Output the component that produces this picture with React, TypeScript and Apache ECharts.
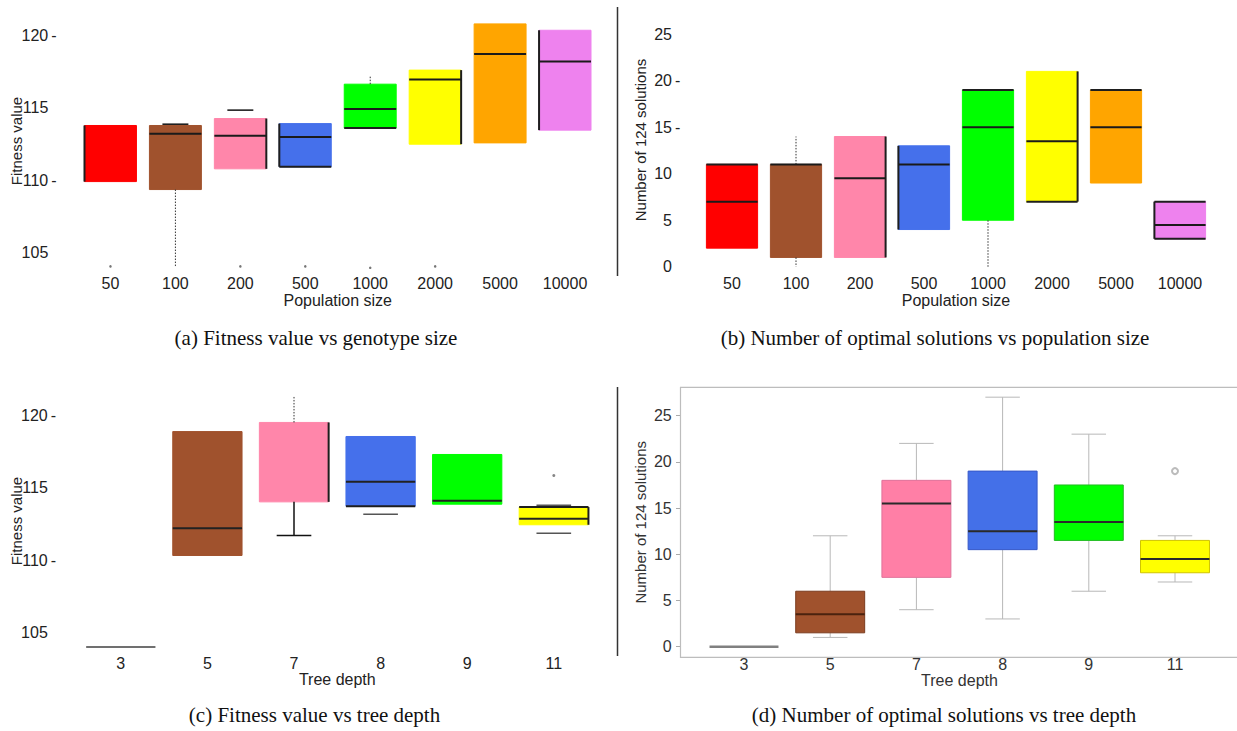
import React, { useEffect, useRef } from 'react';
import * as echarts from 'echarts';

const SANS = '"Liberation Sans", Arial, Helvetica, sans-serif';
const SERIF = '"Liberation Serif", "Times New Roman", serif';

// ---------- categories ----------
const popSizes = ['50', '100', '200', '500', '1000', '2000', '5000', '10000'];
const treeDepths = ['3', '5', '7', '8', '9', '11'];

// ---------- (a) Fitness value vs population size ----------
const fitPopQ1 = [109.9, 109.35, 110.78, 110.92, 113.59, 112.48, 112.57, 113.45];
const fitPopMedian: (number | null)[] = [null, 113.2, 113.06, 112.97, 114.9, 116.94, 118.71, 118.18];
const fitPopQ3 = [113.77, 113.77, 114.25, 113.9, 116.62, 117.59, 120.78, 120.34];
const fitPopLow: (number | null)[] = [null, 104.0, null, null, null, null, null, null];
const fitPopHigh: (number | null)[] = [null, 113.86, 114.83, null, 117.24, null, null, null];
const fitPopOutliers = [[0, 104.05], [2, 104.05], [3, 104.05], [4, 103.95], [5, 104.05]];

// ---------- (b) Number of 124 solutions vs population size ----------
const solPopQ1 = [2, 1, 1, 4, 5, 7, 9, 3];
const solPopMedian: (number | null)[] = [7, 11, 9.5, 11, 15, 13.5, 15, 4.5];
const solPopQ3 = [11, 11, 14, 13, 19, 21, 19, 7];
const solPopLow: (number | null)[] = [null, 0, null, null, 0, null, null, null];
const solPopHigh: (number | null)[] = [null, 14, null, null, null, null, null, null];

// ---------- (c) Fitness value vs tree depth ----------
const fitDepthQ1 = [104.0, 110.32, 114.02, 113.72, 113.86, 112.44];
const fitDepthMedian: (number | null)[] = [104.0, 112.2, null, 115.4, 114.09, 112.85];
const fitDepthQ3 = [104.0, 118.87, 119.5, 118.53, 117.29, 113.66];
const fitDepthLow: (number | null)[] = [null, null, 111.7, 113.17, null, 111.86];
const fitDepthHigh: (number | null)[] = [null, null, 121.26, null, null, 113.79];
const fitDepthOutliers = [[5, 115.84]];

// ---------- (d) Number of 124 solutions vs tree depth ----------
const solDepthLow = [0, 1, 4, 3, 6, 7];
const solDepthQ1 = [0, 1.5, 7.5, 10.5, 11.5, 8];
const solDepthMedian = [0, 3.5, 15.5, 12.5, 13.5, 9.5];
const solDepthQ3 = [0, 6, 18, 19, 17.5, 11.5];
const solDepthHigh = [0, 12, 22, 27, 23, 12];
const solDepthOutliers = [[5, 19]];

// ---------- texts ----------
const captions = [
  '(a) Fitness value vs genotype size',
  '(b) Number of optimal solutions vs population size',
  '(c) Fitness value vs tree depth',
  '(d) Number of optimal solutions vs tree depth',
];
const fitTicks = [105, 110, 115, 120];
const solTicks = [0, 5, 10, 15, 20, 25];

// ---------- styles ----------
const popColors = ['#FF0000', '#A0522D', '#FF86AA', '#4570EB', '#00FF00', '#FFFF00', '#FFA500', '#EE82EE'];
const depthColors = ['#808080', '#A0522D', '#FF86AA', '#4570EB', '#00FF00', '#FFFF00'];
const depthColorsD = ['#808080', '#A0522D', '#FF7FA6', '#4470E8', '#00FF00', '#FFFF00'];
const depthBordersD = ['#808080', '#7a3b1e', '#e0729a', '#3658c8', '#22bb22', '#d0c400'];

const fitPopLowKind = ['', 'dotted', '', '', '', '', '', ''];
const fitPopHighKind = ['', 'cap', 'cap', '', 'dotted', '', '', ''];
const fitPopEdges = ['L', '', 'R', 'LB', 'B', 'R', '', 'L'];

const solPopLowKind = ['', 'dotted', '', '', 'dotted', '', '', ''];
const solPopHighKind = ['', 'dotted', '', '', '', '', '', ''];
const solPopEdges = ['T', '', 'R', 'L', 'T', 'RB', 'T', 'TBL'];

const fitDepthLowKind = ['', '', 'solid', 'capGray', '', 'capGray'];
const fitDepthHighKind = ['', '', 'dotted', '', '', 'capGray'];
const fitDepthEdges = ['', '', 'R', 'B', '', 'TR'];
const fitDepthMedianColors = ['#707070', '#222', '#222', '#222', '#222', '#222'];

type BoxCfg = {
  median: (number | null)[];
  low: (number | null)[];
  high: (number | null)[];
  lowKind: string[];
  highKind: string[];
  edges: string[];
  colors: string[];
  medianColors?: string[];
};

const seg = (x1: number, y1: number, x2: number, y2: number, stroke: string, lineWidth: number, lineDash?: number[]) => ({
  type: 'line',
  shape: { x1, y1, x2, y2 },
  style: lineDash ? { stroke, lineWidth, lineDash } : { stroke, lineWidth },
});

function plainBox(c: BoxCfg) {
  return (params: any, api: any) => {
    const i = params.dataIndex;
    const x = api.value(0);
    const p1 = api.coord([x, api.value(1)]);
    const p3 = api.coord([x, api.value(2)]);
    const cx = p1[0];
    const bw = api.size([1, 0])[0] * 0.8;
    const L = cx - bw / 2;
    const R = cx + bw / 2;
    const yT = p3[1];
    const yB = p1[1];
    const ch: any[] = [];
    if (yB - yT > 0.5) {
      ch.push({ type: 'rect', shape: { x: L, y: yT, width: bw, height: yB - yT }, style: { fill: c.colors[i], stroke: c.colors[i], lineWidth: 1 } });
    }
    const whisker = (v: number | null, kind: string, yFrom: number) => {
      if (v == null || !kind) return;
      const yv = api.coord([x, v])[1];
      if (kind === 'dotted') ch.push(seg(cx, yFrom, cx, yv, '#333', 1, [1.5, 1.5]));
      if (kind === 'solid') {
        ch.push(seg(cx, yFrom, cx, yv, '#111', 1.5));
        ch.push(seg(cx - bw / 4, yv, cx + bw / 4, yv, '#111', 1.5));
      }
      if (kind === 'cap') ch.push(seg(cx - bw / 4, yv, cx + bw / 4, yv, '#111', 1.5));
      if (kind === 'capGray') ch.push(seg(cx - bw / 4, yv, cx + bw / 4, yv, '#555', 1.5));
    };
    whisker(c.low[i], c.lowKind[i], yB);
    whisker(c.high[i], c.highKind[i], yT);
    const e = c.edges[i];
    const ec = '#1e1e1e';
    if (e.includes('L')) ch.push(seg(L, yT, L, yB, ec, 2));
    if (e.includes('R')) ch.push(seg(R, yT, R, yB, ec, 2));
    if (e.includes('T')) ch.push(seg(L, yT, R, yT, ec, 2));
    if (e.includes('B')) ch.push(seg(L, yB, R, yB, ec, 2));
    const m = c.median[i];
    if (m != null) {
      const ym = api.coord([x, m])[1];
      ch.push(seg(L, ym, R, ym, c.medianColors ? c.medianColors[i] : '#1a1a1a', 2));
    }
    return { type: 'group', children: ch };
  };
}

function fullBox(params: any, api: any) {
  const i = params.dataIndex;
  const x = api.value(0);
  const yLow = api.coord([x, api.value(1)])[1];
  const yQ1 = api.coord([x, api.value(2)])[1];
  const yMed = api.coord([x, api.value(3)])[1];
  const yQ3 = api.coord([x, api.value(4)])[1];
  const yHigh = api.coord([x, api.value(5)])[1];
  const cx = api.coord([x, api.value(3)])[0];
  const bw = api.size([1, 0])[0] * 0.8;
  const L = cx - bw / 2;
  const R = cx + bw / 2;
  const wc = '#b8b8b8';
  const ch: any[] = [];
  if (yLow - yQ1 > 0.3 || yQ3 - yHigh > 0.3) {
    ch.push(seg(cx, yQ3, cx, yHigh, wc, 1));
    ch.push(seg(cx, yQ1, cx, yLow, wc, 1));
    ch.push(seg(cx - bw / 4, yHigh, cx + bw / 4, yHigh, wc, 1));
    ch.push(seg(cx - bw / 4, yLow, cx + bw / 4, yLow, wc, 1));
  }
  if (yQ1 - yQ3 > 0.5) {
    ch.push({ type: 'rect', shape: { x: L, y: yQ3, width: bw, height: yQ1 - yQ3 }, style: { fill: depthColorsD[i], stroke: depthBordersD[i], lineWidth: 1 } });
    ch.push(seg(L, yMed, R, yMed, i === 1 ? '#4a220e' : '#2a2a2a', 2));
  } else {
    ch.push(seg(L, yMed, R, yMed, '#808080', 2.5));
  }
  return { type: 'group', children: ch };
}

const dashLabel = (dashed: number[]) => (v: number) => {
  if (Math.abs(v % 5) > 1e-6) return '';
  return dashed.includes(v) ? `{n|${v}}{d|-}` : `{n|${v}}{g| }`;
};
const richLab = {
  n: { fontSize: 16, color: '#222', fontFamily: SANS },
  d: { fontSize: 16, color: '#222', fontFamily: SANS, padding: [0, 0, 0, 3] },
  g: { fontSize: 16, width: 8.3 },
};

const catAxis = (gridIndex: number, data: string[], name: string, margin: number, nameGap: number, color = '#222') => ({
  gridIndex,
  type: 'category',
  data,
  boundaryGap: true,
  axisLine: { show: false },
  axisTick: { show: false },
  axisLabel: { interval: 0, fontSize: 16, color, margin, fontFamily: SANS },
  name,
  nameLocation: 'middle',
  nameGap,
  nameMoveOverlap: false,
  nameTextStyle: { fontSize: 16, color, fontFamily: SANS },
});

const valAxis = (gridIndex: number, min: number, max: number, ticks: number[], dashed: number[], name: string, margin: number, nameGap: number) => ({
  gridIndex,
  type: 'value',
  min,
  max,
  splitLine: { show: false },
  axisLine: { show: false },
  axisTick: { show: false },
  axisLabel: { customValues: ticks, formatter: dashLabel(dashed), rich: richLab, margin },
  name,
  nameLocation: 'middle',
  nameGap,
  nameMoveOverlap: false,
  nameTextStyle: { fontSize: 15, color: '#222', fontFamily: SANS },
});

export default function App() {
  const ref = useRef<HTMLDivElement>(null);
  useEffect(() => {
    if (!ref.current) return;
    const chart = echarts.init(ref.current, undefined, { renderer: 'svg' });
    const option: any = {
      animation: false,
      backgroundColor: '#ffffff',
      textStyle: { fontFamily: SANS },
      grid: [
        { left: 78, top: 12, width: 519.5, height: 258 },
        { left: 700, top: 10, width: 512, height: 260 },
        { left: 77.5, top: 392, width: 519.6, height: 258 },
        { left: 700.9, top: 387.3, width: 517.2, height: 270 },
      ],
      xAxis: [
        catAxis(0, popSizes, 'Population size', 5, 22),
        catAxis(1, popSizes, 'Population size', 5, 22),
        catAxis(2, treeDepths, 'Tree depth', 5, 21),
        catAxis(3, treeDepths, 'Tree depth', -1, 15.5, '#333'),
      ],
      yAxis: [
        valAxis(0, 103.8, 121.6, fitTicks, [120, 110], 'Fitness value', 21.4, 54),
        valAxis(1, -0.35, 27.6, solTicks, [20, 15], 'Number of 124 solutions', 19.7, 52.5),
        valAxis(2, 103.8, 121.6, fitTicks, [120, 110], 'Fitness value', 21.4, 54),
        {
          gridIndex: 3,
          type: 'value',
          min: -1.15,
          max: 28.07,
          offset: 20.9,
          splitLine: { show: false },
          axisLine: { show: false },
          axisTick: { show: true, length: 4, customValues: solTicks, lineStyle: { color: '#aaa' } },
          axisLabel: {
            customValues: solTicks,
            formatter: (v: number) => (Math.abs(v % 5) > 1e-6 ? '' : String(v)),
            fontSize: 16,
            color: '#333',
            margin: 8.3,
            fontFamily: SANS,
          },
          name: 'Number of 124 solutions',
          nameLocation: 'middle',
          nameGap: 32.5,
          nameMoveOverlap: false,
          nameTextStyle: { fontSize: 15, color: '#333', fontFamily: SANS },
        },
      ],
      series: [
        {
          type: 'custom',
          xAxisIndex: 0,
          yAxisIndex: 0,
          renderItem: plainBox({ median: fitPopMedian, low: fitPopLow, high: fitPopHigh, lowKind: fitPopLowKind, highKind: fitPopHighKind, edges: fitPopEdges, colors: popColors }),
          encode: { x: 0, y: [1, 2] },
          data: popSizes.map((_, i) => [i, fitPopQ1[i], fitPopQ3[i]]),
        },
        {
          type: 'scatter',
          xAxisIndex: 0,
          yAxisIndex: 0,
          symbolSize: 2.5,
          itemStyle: { color: '#555' },
          data: fitPopOutliers,
        },
        {
          type: 'custom',
          xAxisIndex: 1,
          yAxisIndex: 1,
          renderItem: plainBox({ median: solPopMedian, low: solPopLow, high: solPopHigh, lowKind: solPopLowKind, highKind: solPopHighKind, edges: solPopEdges, colors: popColors }),
          encode: { x: 0, y: [1, 2] },
          data: popSizes.map((_, i) => [i, solPopQ1[i], solPopQ3[i]]),
        },
        {
          type: 'custom',
          xAxisIndex: 2,
          yAxisIndex: 2,
          renderItem: plainBox({ median: fitDepthMedian, low: fitDepthLow, high: fitDepthHigh, lowKind: fitDepthLowKind, highKind: fitDepthHighKind, edges: fitDepthEdges, colors: depthColors, medianColors: fitDepthMedianColors }),
          encode: { x: 0, y: [1, 2] },
          data: treeDepths.map((_, i) => [i, fitDepthQ1[i], fitDepthQ3[i]]),
        },
        {
          type: 'scatter',
          xAxisIndex: 2,
          yAxisIndex: 2,
          symbolSize: 3,
          itemStyle: { color: '#666' },
          data: fitDepthOutliers,
        },
        {
          type: 'custom',
          xAxisIndex: 3,
          yAxisIndex: 3,
          renderItem: fullBox,
          encode: { x: 0, y: [1, 2, 3, 4, 5] },
          data: treeDepths.map((_, i) => [i, solDepthLow[i], solDepthQ1[i], solDepthMedian[i], solDepthQ3[i], solDepthHigh[i]]),
        },
        {
          type: 'scatter',
          xAxisIndex: 3,
          yAxisIndex: 3,
          symbol: 'emptyCircle',
          symbolSize: 6,
          itemStyle: { color: '#aaa', borderColor: '#aaa', borderWidth: 1 },
          data: solDepthOutliers,
        },
      ],
      graphic: [
        { type: 'rect', z: -1, shape: { x: 680.5, y: 387.3, width: 600, height: 270 }, style: { fill: 'none', stroke: '#bdbdbd', lineWidth: 1.2 } },
        { type: 'line', shape: { x1: 617.5, y1: 7, x2: 617.5, y2: 276 }, style: { stroke: '#333', lineWidth: 1.5 } },
        { type: 'line', shape: { x1: 617.5, y1: 387, x2: 617.5, y2: 656 }, style: { stroke: '#333', lineWidth: 1.5 } },
        { type: 'text', x: 316, y: 338, style: { text: captions[0], font: `21px ${SERIF}`, fill: '#111', align: 'center', verticalAlign: 'middle' } },
        { type: 'text', x: 935, y: 338, style: { text: captions[1], font: `21px ${SERIF}`, fill: '#111', align: 'center', verticalAlign: 'middle' } },
        { type: 'text', x: 314.5, y: 715, style: { text: captions[2], font: `21px ${SERIF}`, fill: '#111', align: 'center', verticalAlign: 'middle' } },
        { type: 'text', x: 944, y: 715, style: { text: captions[3], font: `21px ${SERIF}`, fill: '#111', align: 'center', verticalAlign: 'middle' } },
      ],
    };
    chart.setOption(option);
    return () => chart.dispose();
  }, []);
  return (
    <div
      ref={ref}
      style={{ position: 'fixed', left: 0, top: 0, width: 1237, height: 731, background: '#fff' }}
    />
  );
}
